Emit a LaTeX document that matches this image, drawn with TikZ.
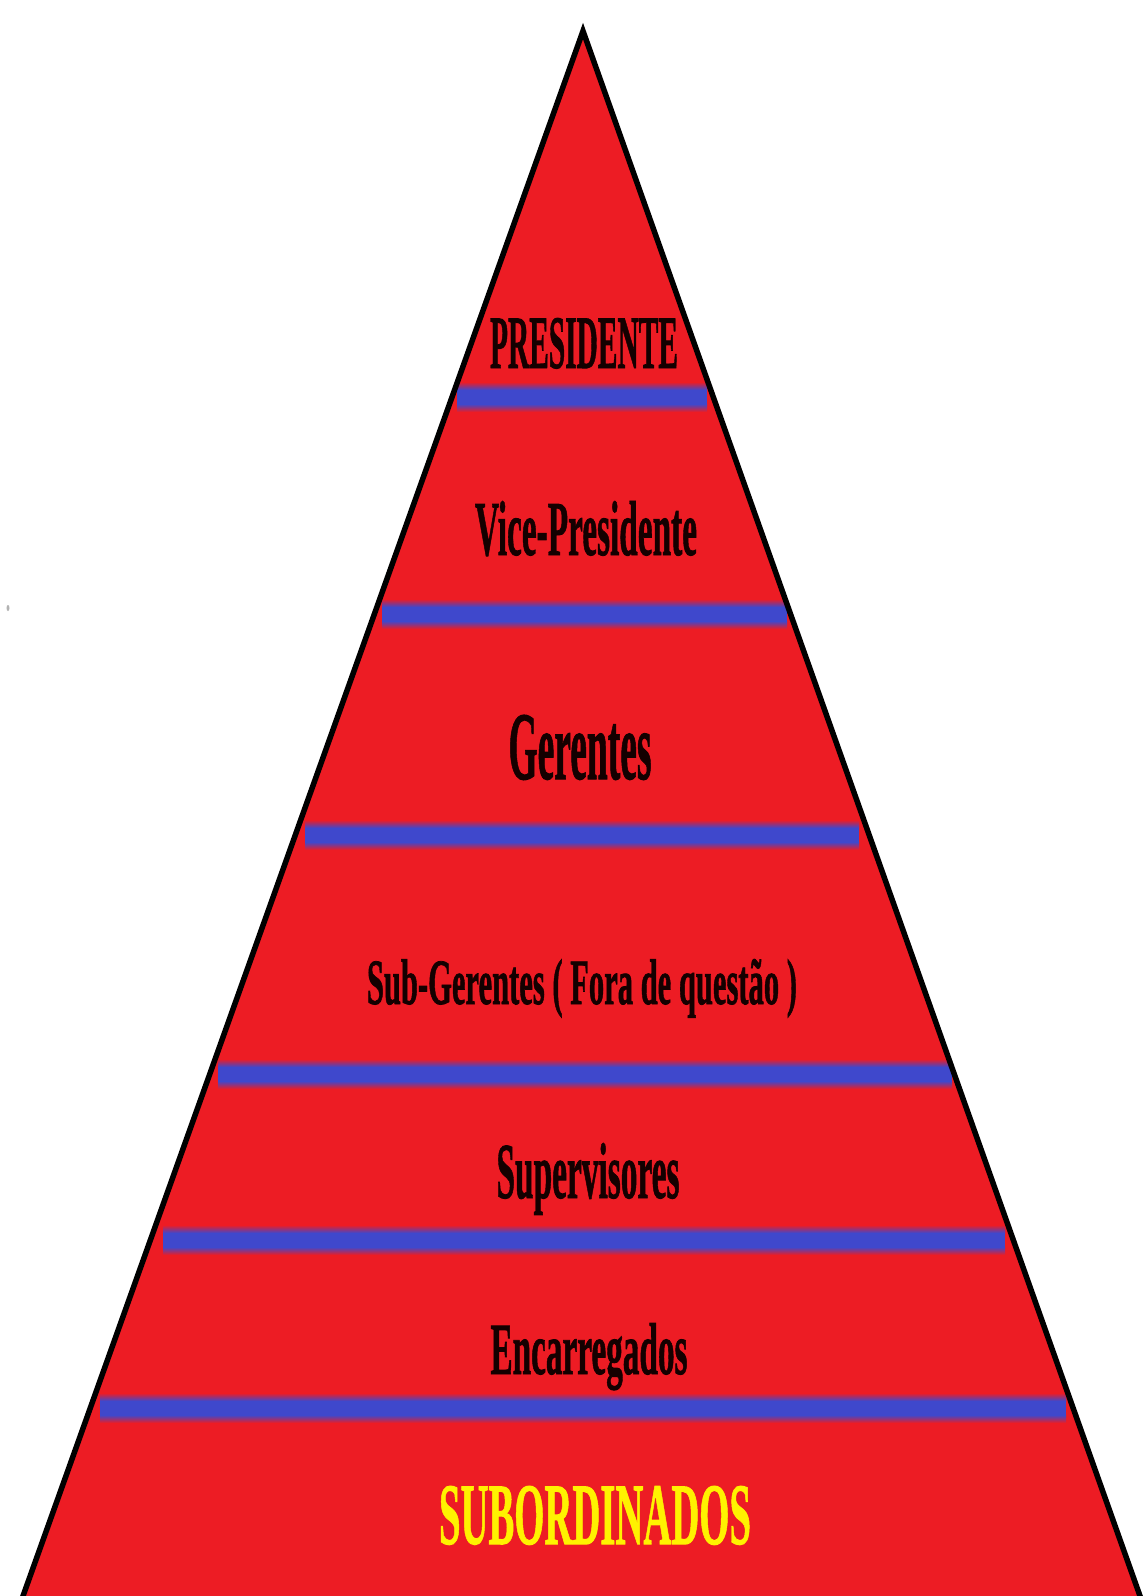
\documentclass[tikz,border=0pt]{standalone}
\usepackage{fontspec}
\setmainfont{Liberation Serif}[BoldFeatures={FakeBold=1.2}]
\usepackage{graphicx}
\definecolor{pred}{RGB}{237,28,36}
\definecolor{pblue}{RGB}{63,72,204}
\definecolor{pyellow}{RGB}{255,242,0}
\definecolor{ptext}{RGB}{20,0,0}
\newcommand{\lvltext}[3]{\resizebox{#1pt}{#2pt}{\bfseries #3}}
\newcommand{\pbar}[3]{%
  \shade[top color=pred, bottom color=pblue] (#1,#3-15) rectangle (#2,#3-7);
  \fill[pblue] (#1,#3-7.2) rectangle (#2,#3+7.2);
  \shade[top color=pblue, bottom color=pred] (#1,#3+7) rectangle (#2,#3+15);
}
\tikzset{
  lbl/.style={anchor=base, inner sep=0pt, text=ptext},
  sublbl/.style={anchor=base, inner sep=0pt, text=pyellow},
  edge/.style={line width=5.5pt, line join=miter, draw=black}
}
\begin{document}
\begin{tikzpicture}[x=1pt,y=-1pt]
\useasboundingbox (0,0) rectangle (1143,1596);
\fill[white] (0,0) rectangle (1143,1596);
\coordinate (apex) at (583,31);
\coordinate (bl) at (18,1610);
\coordinate (br) at (1145,1610);
\fill[pred] (apex) -- (bl) -- (br) -- cycle;
\begin{scope}
  \clip (apex) -- (bl) -- (br) -- cycle;
  \pbar{457}{707}{397}
  \pbar{382}{787}{614}
  \pbar{305}{859}{835}
  \pbar{218}{952}{1074}
  \pbar{163}{1005}{1240}
  \pbar{100}{1066}{1408}
\end{scope}
\draw[edge] (bl) -- (apex) -- (br);
\node[lbl] (pres) at (584,368) {\lvltext{188}{50}{PRESIDENTE}};
\node[lbl] (vice) at (586,555) {\lvltext{222}{54}{Vice-Presidente}};
\node[lbl] (ger) at (580,779) {\lvltext{143}{64}{Gerentes}};
\node[lbl] (sub) at (582,1004) {\lvltext{430}{45}{Sub-Gerentes ( Fora de questão )}};
\node[lbl] (sup) at (588,1198) {\lvltext{183}{55}{Supervisores}};
\node[lbl] (enc) at (589,1374) {\lvltext{197}{51}{Encarregados}};
\node[sublbl] (subord) at (595,1544) {\lvltext{312}{58}{SUBORDINADOS}};
\fill[gray!60] (8,608) ellipse (1.5 and 3);
\end{tikzpicture}
\end{document}
